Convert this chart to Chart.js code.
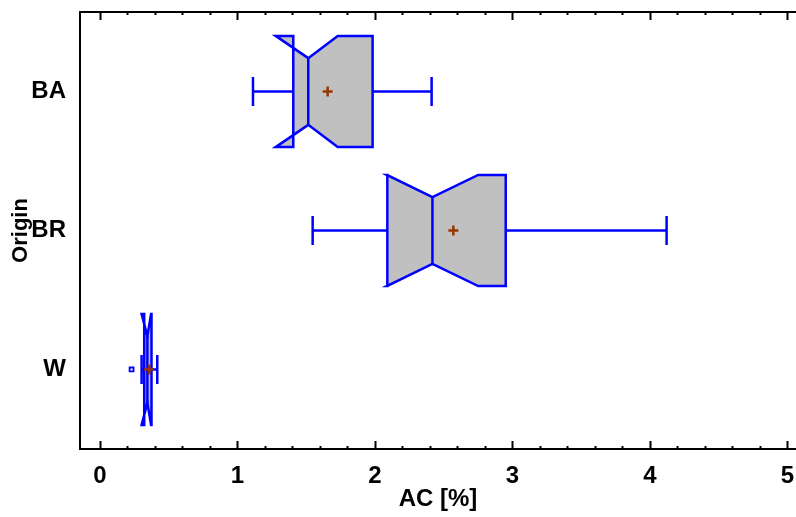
<!DOCTYPE html>
<html>
<head>
<meta charset="utf-8">
<script src="https://cdn.jsdelivr.net/npm/chart.js@4.4.1/dist/chart.umd.min.js"></script>
<style>
  html, body { margin: 0; padding: 0; background: #fff; overflow: hidden; }
  #wrap { width: 796px; height: 517px; position: relative; }
</style>
</head>
<body>
<div id="wrap"><canvas id="c"></canvas></div>
<script>
// ---- data ----
const categories  = ['BA', 'BR', 'W'];
const whiskerLow  = [1.113, 1.547, 0.303];
const q1          = [1.406, 2.090, 0.322];
const median      = [1.515, 2.418, 0.345];
const q3          = [1.983, 2.951, 0.375];
const whiskerHigh = [2.412, 4.121, 0.417];
const notchLow    = [1.278, 2.087, 0.303];
const notchHigh   = [1.729, 2.751, 0.372];
const means       = [1.656, 2.570, 0.358];
const outliers    = [[], [], [0.230]];
const xTicks      = [0, 1, 2, 3, 4, 5];
const xMinorStep  = 0.2;

// ---- styles ----
const BLUE = '#0000FF';
const FILL = '#C0C0C0';
const MEAN = '#993300';
const FONT = "'Liberation Sans', Arial, sans-serif";
const BOX_HALF = 0.4;     // in category units
const WAIST = 0.6;        // notch waist relative to box half-height
const CAP_HALF = 0.105;   // whisker cap half-height

const meanPts = means.map((m, i) => ({ x: m, y: i }));
const outPts = [];
outliers.forEach((arr, i) => arr.forEach(v => outPts.push({ x: v, y: i })));

const boxPlugin = {
  id: 'notchedBoxes',
  beforeDatasetsDraw(chart) {
    const { ctx, scales: { x, y } } = chart;
    ctx.save();
    ctx.lineJoin = 'miter';
    ctx.lineCap = 'butt';
    categories.forEach((c, i) => {
      const yc = y.getPixelForValue(i);
      const hb = Math.abs(y.getPixelForValue(i + BOX_HALF) - yc);
      const hw = hb * WAIST;
      const hc = Math.abs(y.getPixelForValue(i + CAP_HALF) - yc);
      const px = v => x.getPixelForValue(v);
      ctx.strokeStyle = BLUE;
      ctx.lineWidth = 2.5;
      // whiskers
      ctx.beginPath();
      ctx.moveTo(px(whiskerLow[i]), yc); ctx.lineTo(px(q1[i]), yc);
      ctx.moveTo(px(q3[i]), yc); ctx.lineTo(px(whiskerHigh[i]), yc);
      ctx.moveTo(px(whiskerLow[i]), yc - hc); ctx.lineTo(px(whiskerLow[i]), yc + hc);
      ctx.moveTo(px(whiskerHigh[i]), yc - hc); ctx.lineTo(px(whiskerHigh[i]), yc + hc);
      ctx.stroke();
      // notched box
      ctx.beginPath();
      ctx.moveTo(px(q1[i]), yc - hb);
      ctx.lineTo(px(notchLow[i]), yc - hb);
      ctx.lineTo(px(median[i]), yc - hw);
      ctx.lineTo(px(notchHigh[i]), yc - hb);
      ctx.lineTo(px(q3[i]), yc - hb);
      ctx.lineTo(px(q3[i]), yc + hb);
      ctx.lineTo(px(notchHigh[i]), yc + hb);
      ctx.lineTo(px(median[i]), yc + hw);
      ctx.lineTo(px(notchLow[i]), yc + hb);
      ctx.lineTo(px(q1[i]), yc + hb);
      ctx.closePath();
      ctx.fillStyle = FILL;
      ctx.fill();
      ctx.stroke();
      // median
      ctx.beginPath();
      ctx.moveTo(px(median[i]), yc - hw);
      ctx.lineTo(px(median[i]), yc + hw);
      ctx.stroke();
    });
    ctx.restore();
  },
  afterDraw(chart) {
    const { ctx, chartArea: a, scales: { x } } = chart;
    ctx.save();
    ctx.strokeStyle = '#000';
    ctx.lineWidth = 2;
    // top frame line
    ctx.beginPath();
    ctx.moveTo(a.left - 1, a.top);
    ctx.lineTo(a.right, a.top);
    ctx.stroke();
    // inward tick marks on top and bottom
    const lo = xTicks[0], hi = xTicks[xTicks.length - 1];
    const n = Math.round((hi - lo) / xMinorStep);
    ctx.beginPath();
    for (let k = 0; k <= n; k++) {
      const v = lo + k * xMinorStep;
      const major = xTicks.some(t => Math.abs(t - v) < 1e-6);
      const L = major ? 8 : 3;
      const p = Math.round(x.getPixelForValue(v)) + 0.5;
      ctx.moveTo(p, a.bottom); ctx.lineTo(p, a.bottom - L);
      ctx.moveTo(p, a.top); ctx.lineTo(p, a.top + L);
    }
    ctx.lineWidth = 2;
    ctx.stroke();
    ctx.restore();
  }
};

new Chart(document.getElementById('c'), {
  type: 'scatter',
  data: {
    datasets: [
      {
        label: 'Mean',
        data: meanPts,
        pointStyle: 'cross',
        pointRadius: 5,
        borderWidth: 2.5,
        borderColor: MEAN,
        backgroundColor: MEAN
      },
      {
        label: 'Outliers',
        data: outPts,
        pointStyle: 'rect',
        pointRadius: 2.8,
        borderWidth: 1.8,
        borderColor: BLUE,
        backgroundColor: '#fff'
      }
    ]
  },
  options: {
    responsive: true,
    maintainAspectRatio: false,
    animation: false,
    layout: { autoPadding: false, padding: { top: 12, right: 0, left: 0, bottom: 0 } },
    plugins: { legend: { display: false }, tooltip: { enabled: false } },
    scales: {
      x: {
        type: 'linear',
        position: 'bottom',
        min: -0.145,
        max: 5.062,
        afterBuildTicks: s => { s.ticks = xTicks.map(v => ({ value: v })); },
        afterFit: s => { s.height = 68; s.paddingLeft = 0; s.paddingRight = 0; },
        grid: { display: false, drawTicks: false },
        border: { display: true, color: '#000', width: 2 },
        ticks: {
          color: '#000',
          padding: 13,
          maxRotation: 0,
          font: { family: FONT, size: 24, weight: 'bold' }
        },
        title: {
          display: true,
          text: 'AC [%]',
          color: '#000',
          padding: { top: 0, bottom: 3 },
          font: { family: FONT, size: 24, weight: 'bold' }
        }
      },
      y: {
        type: 'linear',
        reverse: true,
        min: -0.572,
        max: 2.572,
        afterBuildTicks: s => { s.ticks = categories.map((c, i) => ({ value: i })); },
        afterFit: s => { s.width = 80; s.paddingTop = 0; s.paddingBottom = 0; },
        grid: { display: false, drawTicks: false },
        border: { display: true, color: '#000', width: 2 },
        ticks: {
          color: '#000',
          padding: 14,
          font: { family: FONT, size: 24, weight: 'bold' },
          callback: v => categories[v]
        },
        title: {
          display: true,
          text: 'Origin',
          color: '#000',
          padding: { top: 8, bottom: 0 },
          font: { family: FONT, size: 22, weight: 'bold' }
        }
      }
    }
  },
  plugins: [boxPlugin]
});
</script>
</body>
</html>
